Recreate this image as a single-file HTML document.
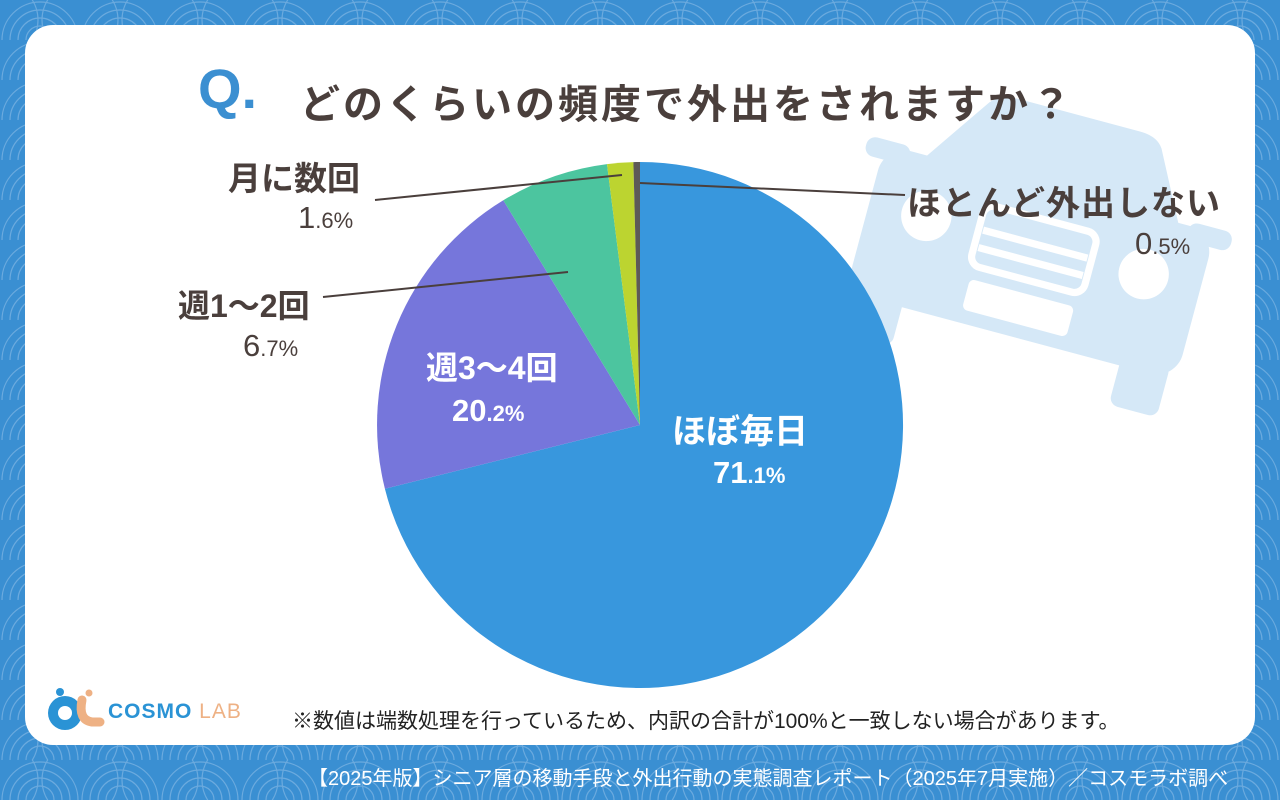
<!DOCTYPE html>
<html><head><meta charset="utf-8"><style>
body{margin:0;width:1280px;height:800px;overflow:hidden;background:#3a8fd2;font-family:"Liberation Sans","Noto Sans CJK JP",sans-serif}
.t{position:absolute;color:#4a3f3c;font-weight:bold;white-space:nowrap}
</style></head><body>
<svg width="1280" height="800" style="position:absolute;left:0;top:0">
<defs>
<pattern id="w" width="80" height="40" patternUnits="userSpaceOnUse">
<g fill="none" stroke="#8cbce6" stroke-width="1.2">
<circle cx="40" cy="40" r="38"/><circle cx="40" cy="40" r="30"/><circle cx="40" cy="40" r="22"/><circle cx="40" cy="40" r="14"/>
<circle cx="0" cy="20" r="38"/><circle cx="80" cy="20" r="38"/>
</g></pattern>
<clipPath id="card"><rect x="25" y="25" width="1230" height="720" rx="28"/></clipPath>
</defs>
<rect width="1280" height="800" fill="#3a8fd2"/>
<rect width="1280" height="800" fill="url(#w)" opacity="0.6"/>
<rect x="25" y="25" width="1230" height="720" rx="28" fill="#fff"/>
<g clip-path="url(#card)">
<g transform="translate(1035,245) rotate(15) scale(0.9) translate(-1050,-180)" fill="#d5e8f7">
<path d="M905 120 L960 40 Q970 28 990 28 L1130 28 Q1150 28 1158 40 L1200 120 Z"/>
<rect x="860" y="115" width="380" height="170" rx="30"/>
<rect x="870" y="270" width="55" height="60" rx="10"/>
<rect x="1175" y="270" width="55" height="60" rx="10"/>
<rect x="840" y="110" width="50" height="22" rx="10"/>
<rect x="1210" y="110" width="50" height="22" rx="10"/>
<circle cx="925" cy="180" r="28" fill="#fff"/>
<circle cx="1175" cy="180" r="28" fill="#fff"/>
<rect x="985" y="150" width="130" height="70" rx="12" fill="none" stroke="#fff" stroke-width="8"/>
<rect x="990" y="175" width="120" height="8" fill="#fff"/><rect x="990" y="195" width="120" height="8" fill="#fff"/>
<rect x="990" y="235" width="120" height="35" rx="6" fill="#fff"/>
</g>
</g>
<path d="M640 425 L640 162 A263 263 0 1 1 384.9 488.8 Z" fill="#3897dd"/>
<path d="M640 425 L384.9 488.8 A263 263 0 0 1 503.3 200.3 Z" fill="#7676db"/>
<path d="M640 425 L503.3 200.3 A263 263 0 0 1 607 164.1 Z" fill="#4cc59f"/>
<path d="M640 425 L607 164.1 A263 263 0 0 1 633.4 162.1 Z" fill="#bcd430"/>
<path d="M640 425 L633.4 162.1 A263 263 0 0 1 640 162 Z" fill="#5d5a57"/>
<g stroke="#4a3f3c" stroke-width="2">
<line x1="375" y1="200" x2="622" y2="175"/>
<line x1="323" y1="297" x2="568" y2="272"/>
<line x1="640" y1="183" x2="905" y2="195"/>
</g>
<circle cx="65" cy="713" r="17" fill="#2a93d5"/><circle cx="65" cy="713" r="7" fill="#fff"/>
<circle cx="60" cy="692" r="4" fill="#2a93d5"/>
<path d="M82 700 Q78 720 92 722 L100 722" stroke="#eeb184" stroke-width="9" fill="none" stroke-linecap="round"/>
<circle cx="89" cy="693" r="3.5" fill="#eeb184"/>
</svg>
<div class="t" style="left:198px;top:56px;font-size:56px;color:#3b8fd1">Q.</div>
<div class="t" style="left:300px;top:72px;font-size:40px;letter-spacing:3px">どのくらいの頻度で外出をされますか？</div>
<div class="t" style="left:228px;top:152px;font-size:33px">月に数回</div>
<div class="t" style="left:298px;top:200px;font-size:31px;font-weight:normal">1<span style="font-size:22px">.6%</span></div>
<div class="t" style="left:178px;top:281px;font-size:32px">週1〜2回</div>
<div class="t" style="left:243px;top:328px;font-size:31px;font-weight:normal">6<span style="font-size:22px">.7%</span></div>
<div class="t" style="left:907px;top:176px;font-size:34px;letter-spacing:1px">ほとんど外出しない</div>
<div class="t" style="left:1135px;top:226px;font-size:31px;font-weight:normal">0<span style="font-size:22px">.5%</span></div>
<div class="t" style="left:426px;top:343px;font-size:32px;color:#fff">週3〜4回</div>
<div class="t" style="left:452px;top:393px;font-size:31px;color:#fff">20<span style="font-size:22px">.2%</span></div>
<div class="t" style="left:672px;top:404px;font-size:34px;color:#fff">ほぼ毎日</div>
<div class="t" style="left:713px;top:455px;font-size:31px;color:#fff">71<span style="font-size:22px">.1%</span></div>
<div class="t" style="left:108px;top:700px;font-size:21px;color:#2a93d5;letter-spacing:1px">COSMO <span style="color:#eeb184;font-weight:normal">LAB</span></div>
<div class="t" style="left:292px;top:705px;font-size:21px;font-weight:normal;color:#222">※数値は端数処理を行っているため、内訳の合計が100%と一致しない場合があります。</div>
<div class="t" style="left:308px;top:762px;font-size:20px;font-weight:normal;color:#fff">【2025年版】シニア層の移動手段と外出行動の実態調査レポート（2025年7月実施）／コスモラボ調べ</div>
</body></html>
